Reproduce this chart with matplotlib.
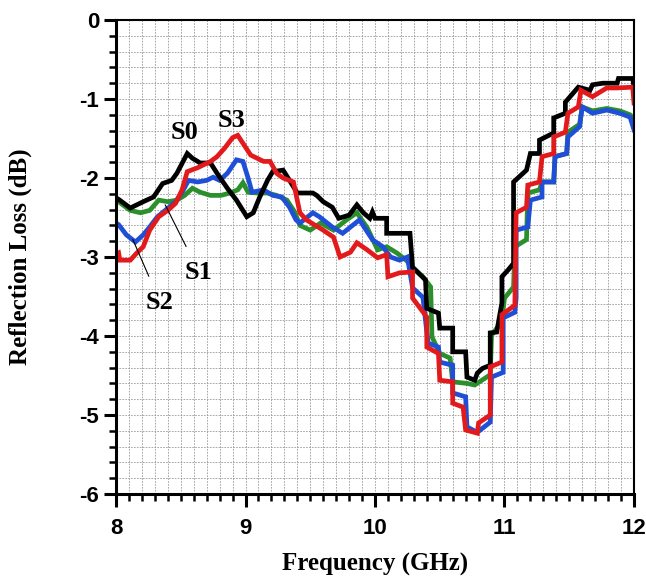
import matplotlib
matplotlib.use('Agg')
import matplotlib.pyplot as plt
from matplotlib.ticker import MultipleLocator

# S0 (black)
s0_f = [8.00, 8.02, 8.11, 8.21, 8.29, 8.36, 8.43, 8.47, 8.55, 8.59, 8.65, 8.73, 8.78, 8.86, 8.93,
        9.01, 9.06, 9.11, 9.17, 9.21, 9.29, 9.34, 9.40, 9.52, 9.55, 9.60, 9.67, 9.72, 9.80, 9.86,
        9.91, 9.96, 9.98, 10.00, 10.09, 10.09, 10.27, 10.29, 10.39, 10.40, 10.49, 10.50, 10.60,
        10.60, 10.70, 10.71, 10.77, 10.79, 10.83, 10.89, 10.89, 10.94, 10.98, 10.98, 11.03, 11.07,
        11.07, 11.17, 11.20, 11.27, 11.27, 11.38, 11.38, 11.47, 11.47, 11.57, 11.66, 11.68, 11.76,
        11.87, 11.88, 11.99, 12.00]
s0_rl = [-2.25, -2.27, -2.38, -2.30, -2.24, -2.07, -2.03, -1.94, -1.69, -1.75, -1.81, -1.81, -1.94, -2.13, -2.28,
         -2.49, -2.44, -2.24, -2.03, -1.92, -1.90, -2.03, -2.19, -2.19, -2.22, -2.30, -2.37, -2.51, -2.47, -2.34,
         -2.44, -2.51, -2.43, -2.51, -2.51, -2.70, -2.70, -3.13, -3.29, -3.65, -3.71, -3.90, -3.90,
         -4.20, -4.20, -4.52, -4.56, -4.47, -4.41, -4.37, -3.96, -3.95, -3.58, -3.25, -3.16, -3.08,
         -2.05, -1.90, -1.69, -1.69, -1.52, -1.43, -1.24, -1.18, -1.04, -0.85, -0.89, -0.82, -0.80,
         -0.80, -0.74, -0.74, -0.85]

# S1 (green)
s1_f = [8.00, 8.02, 8.11, 8.19, 8.26, 8.33, 8.40, 8.47, 8.53, 8.59, 8.65, 8.73, 8.81, 8.88, 8.94,
        8.98, 9.02, 9.09, 9.17, 9.24, 9.32, 9.38, 9.42, 9.50, 9.58, 9.68, 9.78, 9.86, 9.94, 10.02,
        10.09, 10.17, 10.24, 10.29, 10.37, 10.43, 10.44, 10.50, 10.58, 10.60, 10.71, 10.77, 10.89,
        10.90, 10.95, 10.98, 11.00, 11.07, 11.08, 11.17, 11.18, 11.27, 11.29, 11.38, 11.39, 11.48,
        11.49, 11.58, 11.60, 11.68, 11.79, 11.89, 11.97, 12.00]
s1_rl = [-2.28, -2.30, -2.41, -2.44, -2.41, -2.28, -2.30, -2.28, -2.22, -2.13, -2.18, -2.22, -2.22, -2.19, -2.15,
         -2.06, -2.18, -2.19, -2.19, -2.22, -2.28, -2.43, -2.60, -2.66, -2.57, -2.66, -2.53, -2.44, -2.63, -2.91,
         -2.87, -2.95, -3.04, -3.13, -3.25, -3.38, -4.01, -4.22, -4.28, -4.58, -4.60, -4.62, -4.49,
         -3.99, -3.88, -3.80, -3.52, -3.38, -2.87, -2.78, -2.19, -2.15, -2.05, -2.05, -1.73, -1.69,
         -1.42, -1.32, -1.10, -1.15, -1.12, -1.15, -1.20, -1.25]

# S2 (blue)
s2_f = [8.00, 8.02, 8.08, 8.15, 8.21, 8.26, 8.32, 8.38, 8.46, 8.51, 8.56, 8.63, 8.70, 8.75, 8.80,
        8.86, 8.93, 8.98, 9.02, 9.05, 9.14, 9.21, 9.28, 9.34, 9.39, 9.42, 9.52, 9.57, 9.67, 9.75,
        9.88, 9.94, 9.98, 10.06, 10.12, 10.19, 10.25, 10.29, 10.37, 10.41, 10.49, 10.50, 10.60,
        10.60, 10.70, 10.71, 10.79, 10.89, 10.90, 10.99, 10.99, 11.08, 11.09, 11.09, 11.18, 11.20,
        11.29, 11.29, 11.38, 11.39, 11.48, 11.49, 11.58, 11.60, 11.68, 11.79, 11.89, 11.97, 12.00]
s2_rl = [-2.57, -2.59, -2.72, -2.81, -2.72, -2.62, -2.49, -2.41, -2.30, -2.18, -2.03, -2.05, -2.03, -1.99, -2.03,
         -1.94, -1.77, -1.79, -2.00, -2.18, -2.15, -2.22, -2.24, -2.37, -2.53, -2.57, -2.44, -2.49, -2.62, -2.70,
         -2.53, -2.68, -2.78, -2.87, -3.00, -3.04, -3.00, -3.39, -3.51, -4.09, -4.14, -4.33, -4.37,
         -4.72, -4.77, -5.15, -5.22, -5.09, -4.52, -4.46, -3.77, -3.70, -3.52, -2.66, -2.62, -2.28,
         -2.24, -2.05, -2.05, -1.73, -1.69, -1.48, -1.35, -1.10, -1.18, -1.14, -1.18, -1.23, -1.39]

# S3 (red)
s3_f = [8.00, 8.02, 8.03, 8.11, 8.16, 8.21, 8.26, 8.33, 8.40, 8.46, 8.51, 8.55, 8.63, 8.73, 8.78,
        8.84, 8.90, 8.94, 9.00, 9.04, 9.14, 9.19, 9.24, 9.29, 9.37, 9.42, 9.47, 9.50, 9.60, 9.68,
        9.73, 9.81, 9.86, 9.94, 10.02, 10.09, 10.10, 10.19, 10.29, 10.29, 10.40, 10.40, 10.49,
        10.50, 10.60, 10.60, 10.68, 10.70, 10.79, 10.80, 10.89, 10.89, 10.98, 10.98, 11.08, 11.09,
        11.17, 11.18, 11.27, 11.29, 11.38, 11.38, 11.47, 11.49, 11.57, 11.59, 11.68, 11.79, 11.87,
        11.99, 12.00]
s3_rl = [-2.97, -2.95, -3.04, -3.04, -2.95, -2.87, -2.66, -2.49, -2.41, -2.32, -2.15, -1.92, -1.87, -1.79, -1.73,
         -1.62, -1.49, -1.46, -1.61, -1.71, -1.79, -1.79, -1.94, -2.00, -2.05, -2.44, -2.53, -2.56, -2.66, -2.75,
         -3.00, -2.94, -2.82, -2.91, -3.01, -2.97, -3.25, -3.20, -3.19, -3.52, -3.76, -4.14, -4.22,
         -4.56, -4.58, -4.85, -4.90, -5.19, -5.23, -5.10, -5.00, -4.39, -4.33, -3.73, -3.61, -2.44,
         -2.37, -2.09, -2.05, -1.73, -1.69, -1.48, -1.42, -1.18, -1.10, -0.89, -0.97, -0.86, -0.86,
         -0.85, -1.05]

fig = plt.figure(figsize=(6.46, 5.78), dpi=100)
ax = fig.add_axes([0.1796, 0.1453, 0.8018, 0.8201])

lw = 3.4
ax.plot(s1_f, s1_rl, color='#2b8f2b', lw=lw, solid_joinstyle='miter')
ax.plot(s2_f, s2_rl, color='#1f4fd6', lw=lw, solid_joinstyle='miter')
ax.plot(s0_f, s0_rl, color='black', lw=lw, solid_joinstyle='miter')
ax.plot(s3_f, s3_rl, color='#e31a1c', lw=lw, solid_joinstyle='miter')

ax.set_xlim(8, 12)
ax.set_ylim(-6, 0)
ax.xaxis.set_major_locator(MultipleLocator(1))
ax.xaxis.set_minor_locator(MultipleLocator(0.1))
ax.yaxis.set_major_locator(MultipleLocator(1))
ax.yaxis.set_minor_locator(MultipleLocator(0.2))
ax.grid(which='both', color='#999999', linestyle=(0, (2, 1.5)), linewidth=0.6)
ax.set_axisbelow(True)

ax.spines['left'].set_linewidth(2.2)
ax.spines['bottom'].set_linewidth(2.2)
ax.spines['top'].set_linewidth(1.5)
ax.spines['right'].set_linewidth(1.5)
ax.tick_params(which='major', direction='out', length=9, width=2.2, top=False, right=False)
ax.tick_params(which='minor', direction='out', length=5, width=1.8, top=False, right=False)

tick_font = {'family': 'Liberation Sans', 'weight': 'bold', 'size': 16}
ax.set_xticks([8, 9, 10, 11, 12])
ax.set_xticklabels(['8', '9', '10', '11', '12'], fontdict=tick_font)
ax.set_yticks([0, -1, -2, -3, -4, -5, -6])
ax.set_yticklabels(['0', '-1', '-2', '-3', '-4', '-5', '-6'], fontdict=tick_font)
ax.tick_params(axis='x', pad=8)
ax.tick_params(axis='y', pad=3)

lab_font = {'family': 'Liberation Serif', 'weight': 'bold', 'size': 18}
ax.set_xlabel('Frequency (GHz)', fontdict=lab_font, labelpad=10)
ax.set_ylabel('Reflection Loss (dB)', fontdict=lab_font, labelpad=34)

ann = dict(family='Liberation Serif', weight='bold', size=19, ha='center', va='center')
ax.text(8.53, -1.43, 'S0', **ann)
ax.text(8.89, -1.27, 'S3', **ann)
ax.annotate('S1', xy=(8.38, -2.34), xytext=(8.64, -3.19),
            arrowprops=dict(arrowstyle='-', color='black', lw=0.8,
                            shrinkA=9, shrinkB=0), **ann)
ax.annotate('S2', xy=(8.13, -2.78), xytext=(8.34, -3.57),
            arrowprops=dict(arrowstyle='-', color='black', lw=0.8,
                            shrinkA=9, shrinkB=0), **ann)

fig.savefig('out.png', dpi=100)
